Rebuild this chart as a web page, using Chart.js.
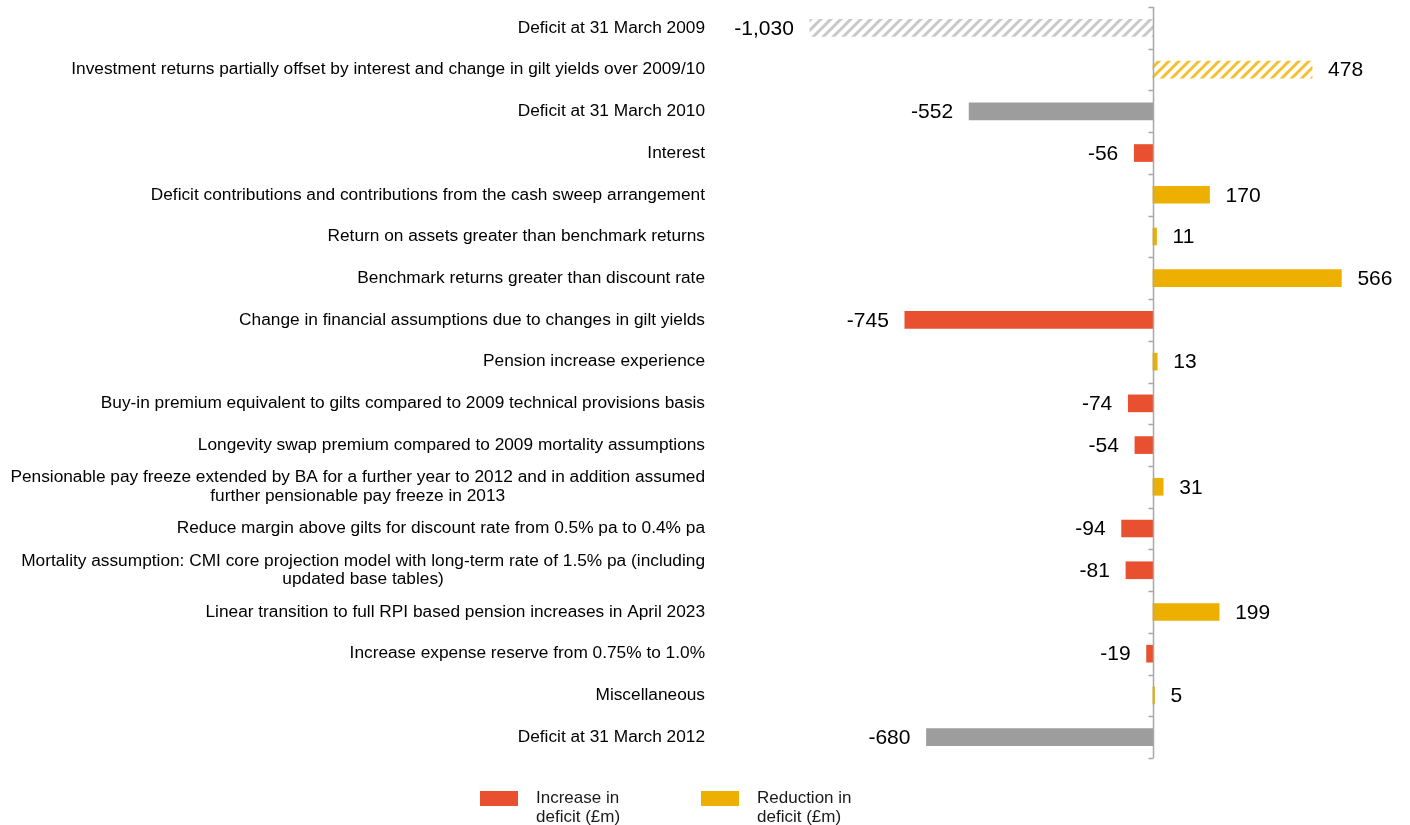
<!DOCTYPE html>
<html>
<head>
<meta charset="utf-8">
<title>Deficit movement</title>
<script src="https://cdn.jsdelivr.net/npm/chart.js@4.4.1/dist/chart.umd.min.js"></script>
<style>
    body { margin: 0; background: #fff; }
    #wrap { position: relative; width: 1410px; height: 825px; }
</style>
</head>
<body>
<div id="wrap"><canvas id="deficitChart"></canvas></div>
<script>
// Category rows, top to bottom (arrays are two-line labels)
const categories = [
    'Deficit at 31 March 2009',
    'Investment returns partially offset by interest and change in gilt yields over 2009/10',
    'Deficit at 31 March 2010',
    'Interest',
    'Deficit contributions and contributions from the cash sweep arrangement',
    'Return on assets greater than benchmark returns',
    'Benchmark returns greater than discount rate',
    'Change in financial assumptions due to changes in gilt yields',
    'Pension increase experience',
    'Buy-in premium equivalent to gilts compared to 2009 technical provisions basis',
    'Longevity swap premium compared to 2009 mortality assumptions',
    ['Pensionable pay freeze extended by BA for a further year to 2012 and in addition assumed', 'further pensionable pay freeze in 2013'],
    'Reduce margin above gilts for discount rate from 0.5% pa to 0.4% pa',
    ['Mortality assumption: CMI core projection model with long-term rate of 1.5% pa (including', 'updated base tables)'],
    'Linear transition to full RPI based pension increases in April 2023',
    'Increase expense reserve from 0.75% to 1.0%',
    'Miscellaneous',
    'Deficit at 31 March 2012'
];

// £m
const deficitValues   = [-1030, null, -552, null, null, null, null, null, null, null, null, null, null, null, null, null, null, -680];
const increaseValues  = [null, null, null, -56, null, null, null, -745, null, -74, -54, null, -94, -81, null, -19, null, null];
const reductionValues = [null, 478, null, null, 170, 11, 566, null, 13, null, null, 31, null, null, 199, null, 5, null];

// rows from the earlier period are drawn hatched
const hatchedRows = [0, 1];

const RED = '#E8502F';
const GOLD = '#EEB000';
const GREY = '#9D9D9D';
const FONT = '"Liberation Sans", Arial, sans-serif';

function makeHatch(color) {
    const c = document.createElement('canvas');
    c.width = 10;
    c.height = 10;
    const g = c.getContext('2d');
    g.fillStyle = '#fff';
    g.fillRect(0, 0, 10, 10);
    g.strokeStyle = color;
    g.lineWidth = 3;
    g.beginPath();
    g.moveTo(-2, 12); g.lineTo(12, -2);
    g.moveTo(-7, 7); g.lineTo(7, -7);
    g.moveTo(3, 17); g.lineTo(17, 3);
    g.stroke();
    return g.createPattern(c, 'repeat');
}

const greyHatch = makeHatch('#C8C8C8');
const goldHatch = makeHatch('#F5C030');

function fillFor(base, hatch) {
    return ctx => hatchedRows.includes(ctx.dataIndex) ? hatch : base;
}

// category labels: block right-aligned, lines centred inside the block
const categoryLabels = {
    id: 'categoryLabels',
    afterDraw(chart) {
        const g = chart.ctx;
        const y = chart.scales.y;
        const right = chart.chartArea.left - 7;
        const lineH = 18.5;
        g.save();
        g.font = '17.3px ' + FONT;
        g.fillStyle = '#000';
        g.textAlign = 'center';
        g.textBaseline = 'middle';
        categories.forEach((label, i) => {
            const lines = Array.isArray(label) ? label : [label];
            const w = Math.max(...lines.map(l => g.measureText(l).width));
            const cy = y.getPixelForValue(i);
            const top = cy - (lines.length - 1) * lineH / 2;
            lines.forEach((l, k) => g.fillText(l, right - w / 2, top + k * lineH));
        });
        g.restore();
    }
};

// vertical axis at zero with tick marks between rows
const zeroAxis = {
    id: 'zeroAxis',
    afterDatasetsDraw(chart) {
        const g = chart.ctx;
        const x0 = Math.round(chart.scales.x.getPixelForValue(0)) + 0.5;
        const y = chart.scales.y;
        const band = y.getPixelForValue(1) - y.getPixelForValue(0);
        g.save();
        g.strokeStyle = '#A8A8A8';
        g.lineWidth = 1.5;
        g.beginPath();
        g.moveTo(x0, chart.chartArea.top);
        g.lineTo(x0, chart.chartArea.bottom);
        for (let i = 0; i <= categories.length; i++) {
            const ty = Math.round(y.getPixelForValue(i) - band / 2) + 0.5;
            g.moveTo(x0 - 5, ty);
            g.lineTo(x0, ty);
        }
        g.stroke();
        g.restore();
    }
};

// value labels beside each bar end
const valueLabels = {
    id: 'valueLabels',
    afterDatasetsDraw(chart) {
        const g = chart.ctx;
        g.save();
        g.font = '21px ' + FONT;
        g.fillStyle = '#000';
        g.textBaseline = 'middle';
        chart.data.datasets.forEach((ds, di) => {
            chart.getDatasetMeta(di).data.forEach((bar, i) => {
                const v = ds.data[i];
                if (v === null) return;
                const text = v.toLocaleString('en-GB');
                if (v < 0) {
                    g.textAlign = 'right';
                    g.fillText(text, bar.x - 16, bar.y + 1);
                } else {
                    g.textAlign = 'left';
                    g.fillText(text, bar.x + 16, bar.y + 1);
                }
            });
        });
        g.restore();
    }
};

// legend for the increase / reduction series
const bottomLegend = {
    id: 'bottomLegend',
    afterDraw(chart) {
        const g = chart.ctx;
        const items = chart.data.datasets.filter(d => d.legendText);
        let x = 480;
        const top = 791;
        g.save();
        g.font = '17px ' + FONT;
        g.textBaseline = 'middle';
        g.textAlign = 'left';
        items.forEach(ds => {
            g.fillStyle = ds.legendColor;
            g.fillRect(x, top, 38, 15);
            g.fillStyle = '#1a1a1a';
            ds.legendText.forEach((t, k) => g.fillText(t, x + 56, top + 7 + k * 19));
            x += 221;
        });
        g.restore();
    }
};

new Chart(document.getElementById('deficitChart'), {
    type: 'bar',
    data: {
        labels: categories,
        datasets: [
            {
                label: 'Deficit (£m)',
                data: deficitValues,
                backgroundColor: fillFor(GREY, greyHatch)
            },
            {
                label: 'Increase in deficit (£m)',
                data: increaseValues,
                backgroundColor: RED,
                legendText: ['Increase in', 'deficit (£m)'],
                legendColor: RED
            },
            {
                label: 'Reduction in deficit (£m)',
                data: reductionValues,
                backgroundColor: fillFor(GOLD, goldHatch),
                legendText: ['Reduction in', 'deficit (£m)'],
                legendColor: GOLD
            }
        ]
    },
    options: {
        indexAxis: 'y',
        responsive: true,
        maintainAspectRatio: false,
        animation: false,
        grouped: false,
        barThickness: 17,
        layout: {
            padding: { left: 712, right: 10, top: 7, bottom: 67 }
        },
        scales: {
            x: {
                display: false,
                min: -1324,
                max: 742
            },
            y: {
                display: false
            }
        },
        plugins: {
            legend: { display: false },
            tooltip: { enabled: false }
        }
    },
    plugins: [zeroAxis, valueLabels, categoryLabels, bottomLegend]
});
</script>
</body>
</html>
